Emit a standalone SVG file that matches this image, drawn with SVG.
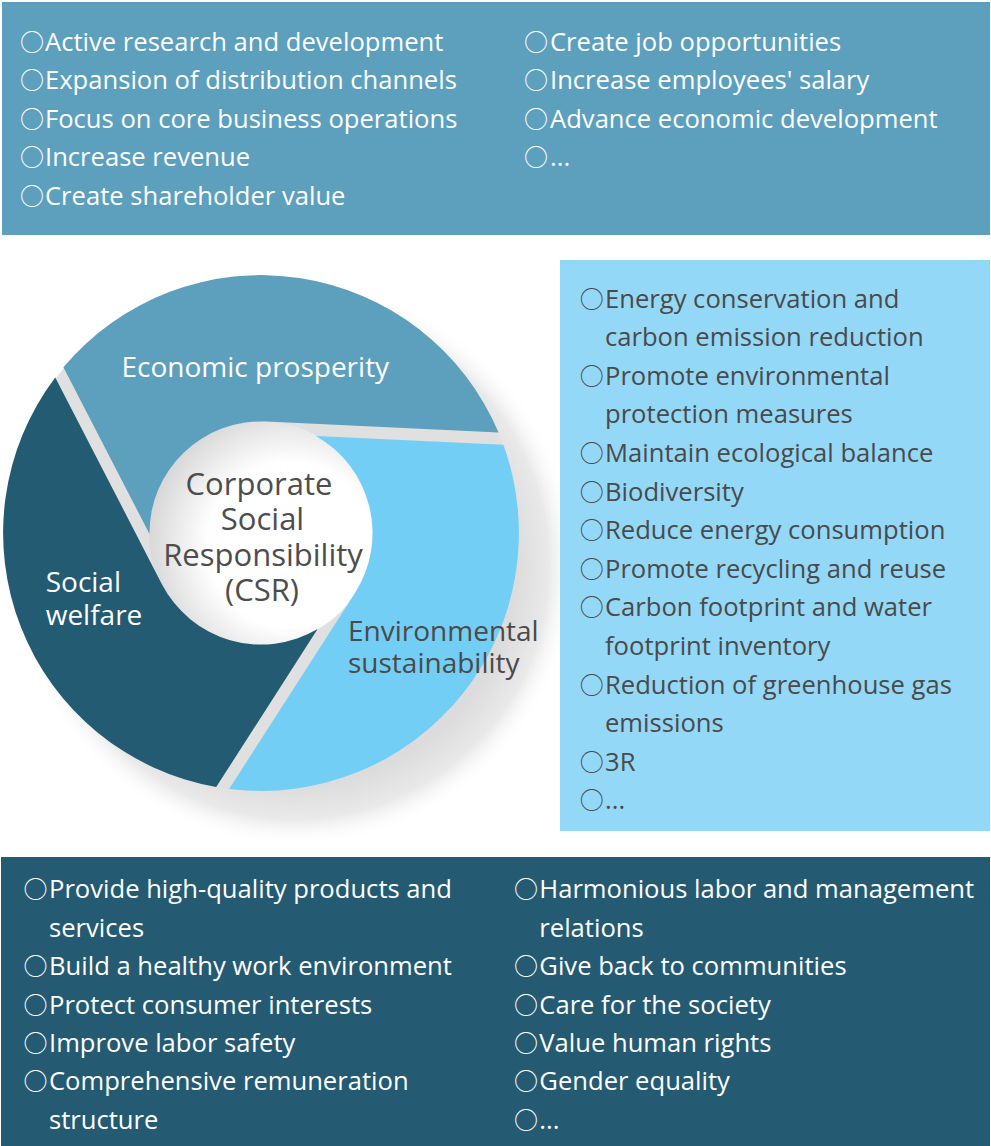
<svg xmlns="http://www.w3.org/2000/svg" width="991" height="1146" viewBox="0 0 991 1146">
<style>
.t{font-family:"Open Sans","Noto Sans","Liberation Sans",sans-serif;font-size:25.6px}
.b{font-family:"Noto Sans CJK TC","Noto Sans CJK SC",sans-serif;font-size:24px;text-anchor:middle}
.w{fill:#ffffff}
.d{fill:#4a4a4a}
.lab{font-family:"Open Sans","Noto Sans","Liberation Sans",sans-serif;font-size:28px}
.ctr{font-family:"Open Sans","Noto Sans","Liberation Sans",sans-serif;font-size:31px;fill:#4d4d4d;text-anchor:middle}
</style>
<defs>
<radialGradient id="shadow" gradientUnits="userSpaceOnUse" cx="295" cy="565" r="282">
<stop offset="0" stop-color="#d8d8d8"/>
<stop offset="0.78" stop-color="#dcdcdc"/>
<stop offset="0.9" stop-color="#e9e9e9"/>
<stop offset="1" stop-color="#ffffff" stop-opacity="0"/>
</radialGradient>
<radialGradient id="inner" gradientUnits="userSpaceOnUse" cx="290" cy="545" r="150">
<stop offset="0.55" stop-color="#ffffff"/>
<stop offset="1" stop-color="#d2d2d2"/>
</radialGradient>
<path id="blade" d="M63.4,367.2 A258,258 0 0 1 498.6,432.6 L266.25,421.6 A111.5,111.5 0 0 0 149.5,534 Z"/>
</defs>
<rect width="991" height="1146" fill="#ffffff"/>

<g id="economic-list">
<rect x="2" y="2" width="988" height="233" fill="#5da0be"/>
<g class="b w">
<text x="32" y="50.7">○</text><text x="32" y="89.2">○</text><text x="32" y="127.7">○</text><text x="32" y="166.2">○</text><text x="32" y="204.7">○</text>
<text x="536" y="50.7">○</text><text x="536" y="89.2">○</text><text x="536" y="127.7">○</text><text x="536" y="166.2">○</text>
</g>
<g class="t w">
<text x="45" y="50.7">Active research and development</text>
<text x="45" y="89.2">Expansion of distribution channels</text>
<text x="45" y="127.7">Focus on core business operations</text>
<text x="45" y="166.2">Increase revenue</text>
<text x="45" y="204.7">Create shareholder value</text>
<text x="550" y="50.7">Create job opportunities</text>
<text x="550" y="89.2">Increase employees' salary</text>
<text x="550" y="127.7">Advance economic development</text>
<text x="550" y="166.2">...</text>
</g>
</g>

<g id="shadow-base">
<circle cx="295" cy="565" r="282" fill="url(#shadow)"/>
<circle cx="261" cy="533" r="257" fill="#e0e0e0"/>
<circle cx="261" cy="533" r="112" fill="url(#inner)"/>
</g>

<g id="economic">
<use href="#blade" fill="#5da0be"/>
<text class="lab w" x="121.5" y="376.7">Economic prosperity</text>
</g>
<g id="social">
<use href="#blade" fill="#235b72" transform="rotate(-120 261 533)"/>
<text class="lab w" x="45.7" y="591.5">Social</text>
<text class="lab w" x="45.7" y="624.8">welfare</text>
</g>
<g id="environment">
<use href="#blade" fill="#73cef5" transform="rotate(120 261 533)"/>
<text class="lab d" x="348" y="641.4">Environmental</text>
<text class="lab d" x="348" y="672.8">sustainability</text>
</g>
<g id="csr">
<text class="ctr" x="259" y="494.5">Corporate</text>
<text class="ctr" x="262.5" y="530.4">Social</text>
<text class="ctr" x="263" y="565.6">Responsibility</text>
<text class="ctr" x="262" y="600.7">(CSR)</text>
</g>

<g id="environment-list">
<rect x="560" y="260" width="430" height="571" fill="#94d8f7"/>
<g class="b d">
<text x="591.7" y="307.5">○</text>
<text x="591.7" y="384.7">○</text>
<text x="591.7" y="461.9">○</text>
<text x="591.7" y="500.5">○</text>
<text x="591.7" y="539.1">○</text>
<text x="591.7" y="577.7">○</text>
<text x="591.7" y="616.3">○</text>
<text x="591.7" y="693.5">○</text>
<text x="591.7" y="770.7">○</text>
<text x="591.7" y="809.3">○</text>
</g>
<g class="t d">
<text x="605" y="307.5">Energy conservation and</text>
<text x="605" y="346.1">carbon emission reduction</text>
<text x="605" y="384.7">Promote environmental</text>
<text x="605" y="423.3">protection measures</text>
<text x="605" y="461.9">Maintain ecological balance</text>
<text x="605" y="500.5">Biodiversity</text>
<text x="605" y="539.1">Reduce energy consumption</text>
<text x="605" y="577.7">Promote recycling and reuse</text>
<text x="605" y="616.3">Carbon footprint and water</text>
<text x="605" y="654.9">footprint inventory</text>
<text x="605" y="693.5">Reduction of greenhouse gas</text>
<text x="605" y="732.1">emissions</text>
<text x="605" y="770.7">3R</text>
<text x="605" y="809.3">...</text>
</g>
</g>

<g id="social-list">
<rect x="1" y="857" width="989" height="289" fill="#245b72"/>
<g class="b w">
<text x="35.5" y="898.3">○</text>
<text x="35.5" y="975.1">○</text>
<text x="35.5" y="1013.5">○</text>
<text x="35.5" y="1051.9">○</text>
<text x="35.5" y="1090.3">○</text>
<text x="526" y="898.3">○</text>
<text x="526" y="975.1">○</text>
<text x="526" y="1013.5">○</text>
<text x="526" y="1051.9">○</text>
<text x="526" y="1090.3">○</text>
<text x="526" y="1128.7">○</text>
</g>
<g class="t w">
<text x="49" y="898.3">Provide high-quality products and</text>
<text x="49" y="936.7">services</text>
<text x="49" y="975.1">Build a healthy work environment</text>
<text x="49" y="1013.5">Protect consumer interests</text>
<text x="49" y="1051.9">Improve labor safety</text>
<text x="49" y="1090.3">Comprehensive remuneration</text>
<text x="49" y="1128.7">structure</text>
<text x="539.3" y="898.3">Harmonious labor and management</text>
<text x="539.3" y="936.7">relations</text>
<text x="539.3" y="975.1">Give back to communities</text>
<text x="539.3" y="1013.5">Care for the society</text>
<text x="539.3" y="1051.9">Value human rights</text>
<text x="539.3" y="1090.3">Gender equality</text>
<text x="539.3" y="1128.7">...</text>
</g>
</g>

<g id="connectors"/>
</svg>
